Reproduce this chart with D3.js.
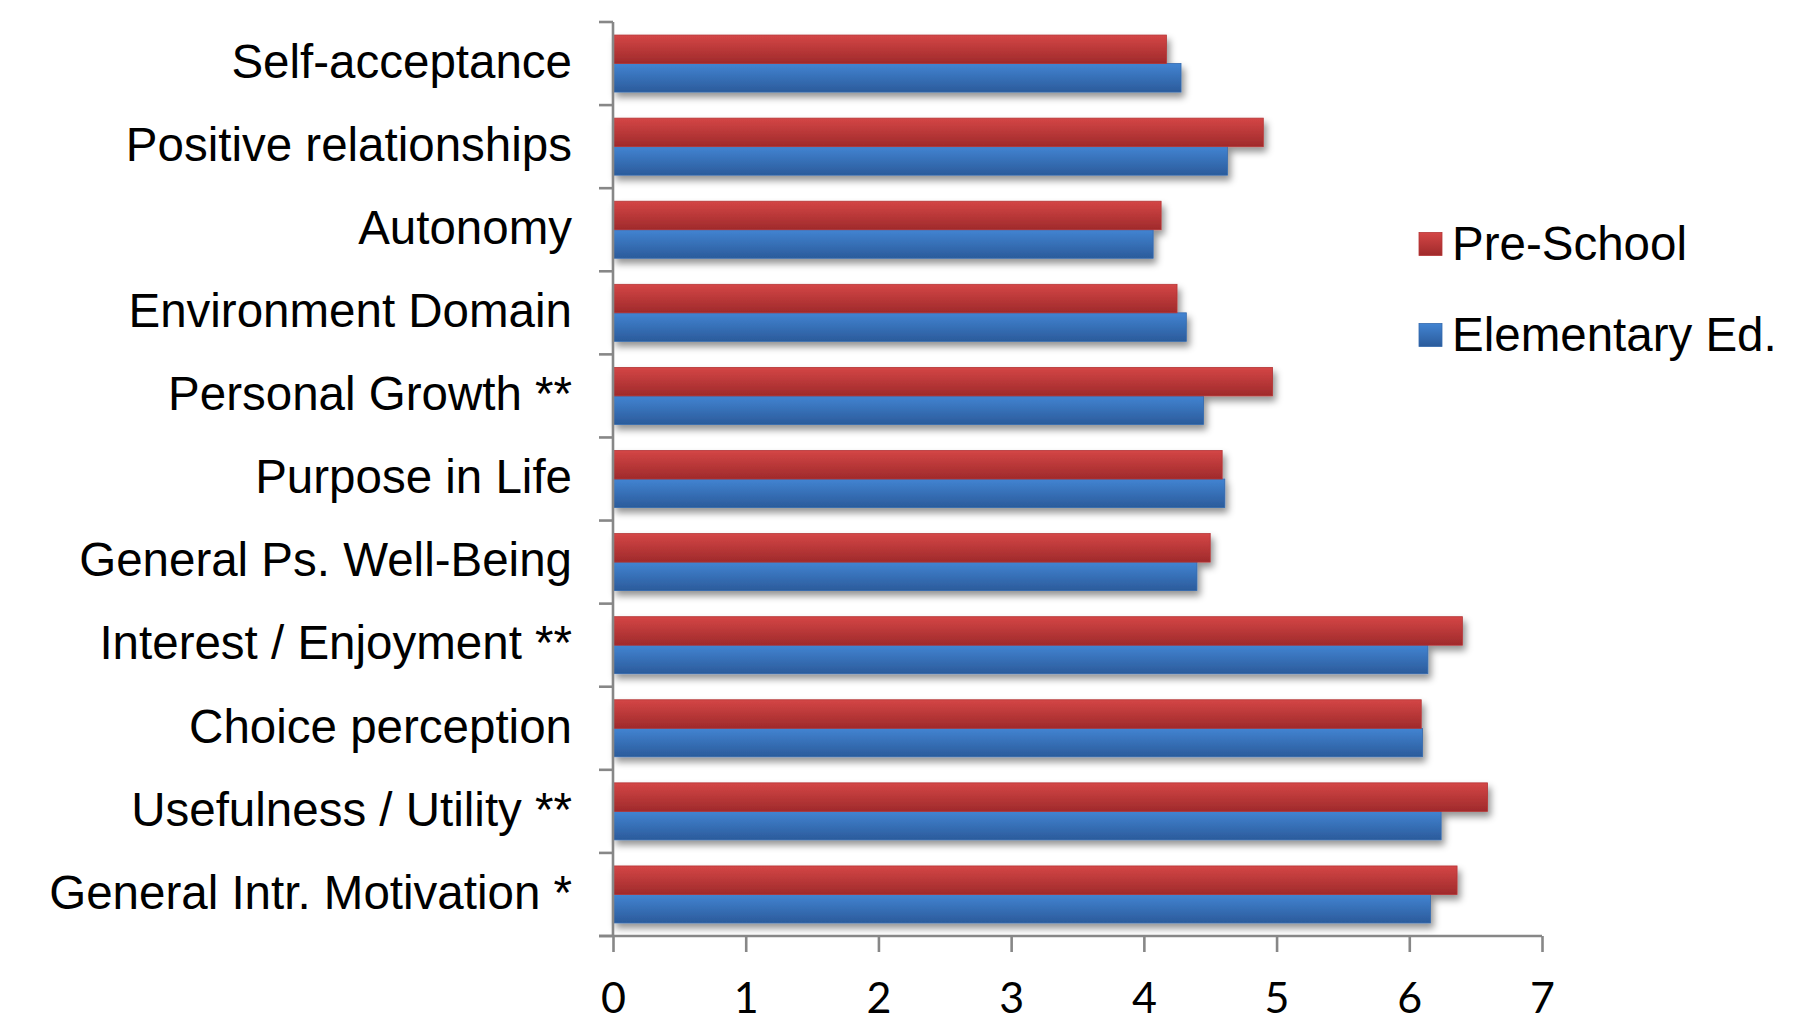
<!DOCTYPE html>
<html>
<head>
<meta charset="utf-8">
<script src="https://cdn.jsdelivr.net/npm/d3@7"></script>
<style>
  html, body { margin: 0; padding: 0; background: #fff; }
  svg { display: block; }
</style>
</head>
<body>
<svg id="chart" width="1793" height="1036"></svg>
<script>
const categories = [
  "Self-acceptance",
  "Positive relationships",
  "Autonomy",
  "Environment Domain",
  "Personal Growth **",
  "Purpose in Life",
  "General Ps. Well-Being",
  "Interest / Enjoyment **",
  "Choice perception",
  "Usefulness / Utility **",
  "General Intr. Motivation *"
];
const seriesNames = ["Pre-School", "Elementary Ed."];
const preSchool  = [4.17, 4.90, 4.13, 4.25, 4.97, 4.59, 4.50, 6.40, 6.09, 6.59, 6.36];
const elementary = [4.28, 4.63, 4.07, 4.32, 4.45, 4.61, 4.40, 6.14, 6.10, 6.24, 6.16];
const xTicks = [0, 1, 2, 3, 4, 5, 6, 7];

const svg = d3.select("#chart");
const margin = { left: 613, top: 22, right: 1793 - 1542, bottom: 1036 - 936 };
const W = 1793, H = 1036;

const x = d3.scaleLinear().domain([0, 7]).range([margin.left, W - margin.right]);
const y = d3.scaleBand().domain(categories).range([margin.top, H - margin.bottom])
  .paddingInner(0.314).paddingOuter(0.157);
const ySub = d3.scaleBand().domain(seriesNames).range([0, y.bandwidth()]);

const defs = svg.append("defs");
const grads = [
  { id: "gRed", top: "#d44646", bottom: "#9f2a2b" },
  { id: "gBlue", top: "#4284d2", bottom: "#2b5b9b" }
];
grads.forEach(g => {
  const lg = defs.append("linearGradient").attr("id", g.id)
    .attr("x1", 0).attr("y1", 0).attr("x2", 0).attr("y2", 1);
  lg.append("stop").attr("offset", "0%").attr("stop-color", g.top);
  lg.append("stop").attr("offset", "100%").attr("stop-color", g.bottom);
});
const f = defs.append("filter").attr("id", "shadow")
  .attr("x", "-5%").attr("y", "-30%").attr("width", "115%").attr("height", "180%");
f.append("feDropShadow").attr("dx", 3).attr("dy", 5).attr("stdDeviation", 3.5)
  .attr("flood-color", "#000").attr("flood-opacity", 0.42);

const fills = { "Pre-School": "url(#gRed)", "Elementary Ed.": "url(#gBlue)" };
const strokes = { "Pre-School": "#b53536", "Elementary Ed.": "#3469ad" };

const rows = categories.map((c, i) => ({ cat: c, vals: [
  { s: seriesNames[0], v: preSchool[i] },
  { s: seriesNames[1], v: elementary[i] }
]}));

// bars
const gBars = svg.append("g");
const grp = gBars.selectAll("g.cat").data(rows).join("g")
  .attr("class", "cat")
  .attr("transform", d => `translate(0,${y(d.cat)})`)
  .attr("filter", "url(#shadow)");
grp.selectAll("rect").data(d => d.vals.slice().reverse()).join("rect")
  .attr("x", x(0))
  .attr("y", d => ySub(d.s))
  .attr("width", d => x(d.v) - x(0))
  .attr("height", ySub.bandwidth())
  .attr("fill", d => fills[d.s])
  .attr("stroke", d => strokes[d.s])
  .attr("stroke-width", 0.8);

// axes
const axisColor = "#878787";
const yAxisG = svg.append("g");
yAxisG.append("line")
  .attr("x1", x(0)).attr("x2", x(0))
  .attr("y1", margin.top).attr("y2", H - margin.bottom)
  .attr("stroke", axisColor).attr("stroke-width", 2.6);
const catBounds = categories.map(c => y(c) - y.step() * y.paddingInner() / 2);
catBounds.push(H - margin.bottom);
yAxisG.selectAll("line.ct").data(catBounds).join("line")
  .attr("class", "ct")
  .attr("x1", x(0) - 14).attr("x2", x(0))
  .attr("y1", d => d).attr("y2", d => d)
  .attr("stroke", axisColor).attr("stroke-width", 2.6);
yAxisG.selectAll("text").data(categories).join("text")
  .attr("x", 572)
  .attr("y", d => y(d) + y.bandwidth() / 2)
  .attr("dy", "0.3em")
  .attr("text-anchor", "end")
  .attr("font-family", "Liberation Sans, Arial, sans-serif")
  .attr("font-size", 47.5)
  .attr("fill", "#000")
  .text(d => d);

const xAxis = d3.axisBottom(x).tickValues(xTicks).tickSize(16).tickPadding(30).tickFormat(d3.format("d"));
const xg = svg.append("g").attr("transform", `translate(0,${H - margin.bottom})`).call(xAxis);
xg.select(".domain").attr("stroke", axisColor).attr("stroke-width", 2.6)
  .attr("d", `M${x(0) - 14},0H${x(7)}`);
xg.selectAll(".tick line").attr("stroke", axisColor).attr("stroke-width", 2.6);
xg.selectAll(".tick text")
  .attr("font-family", "Lato, 'Open Sans', sans-serif")
  .attr("font-size", 43)
  .attr("fill", "#000");

// legend
const legend = svg.append("g");
const legendY = [243, 334];
seriesNames.forEach((s, i) => {
  legend.append("rect")
    .attr("x", 1419).attr("y", legendY[i] - 10.5)
    .attr("width", 23).attr("height", 23)
    .attr("fill", fills[s]).attr("stroke", strokes[s]).attr("stroke-width", 0.8);
  legend.append("text")
    .attr("x", 1452).attr("y", legendY[i])
    .attr("dy", "0.35em")
    .attr("font-family", "Liberation Sans, Arial, sans-serif")
    .attr("font-size", 47.5)
    .attr("fill", "#000")
    .text(s);
});
</script>
</body>
</html>
